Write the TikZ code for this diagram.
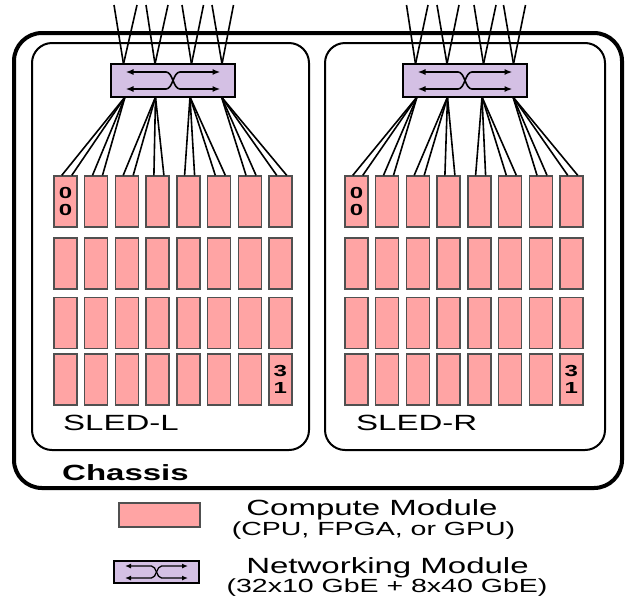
\documentclass[tikz,border=0pt]{standalone}
\usepackage{fontspec}
\setmainfont{Liberation Sans}
\usepackage{graphicx}
\usetikzlibrary{arrows.meta}
\definecolor{modfill}{RGB}{255,164,164}
\definecolor{moddraw}{RGB}{80,80,80}
\definecolor{netfill}{RGB}{212,192,228}
\newcommand{\hstr}[1]{\scalebox{1.5}[1]{#1}}
\newcommand{\crossarrows}[5]{%
  \draw[#5] ([shift={(-#2,-#3)}]#1.center) -- ([shift={(-#4,-#3)}]#1.center)
    .. controls ([shift={(0,-#3)}]#1.center) and ([shift={(0,#3)}]#1.center) ..
    ([shift={(#4,#3)}]#1.center) -- ([shift={(#2,#3)}]#1.center);
  \draw[#5] ([shift={(-#2,#3)}]#1.center) -- ([shift={(-#4,#3)}]#1.center)
    .. controls ([shift={(0,#3)}]#1.center) and ([shift={(0,-#3)}]#1.center) ..
    ([shift={(#4,-#3)}]#1.center) -- ([shift={(#2,-#3)}]#1.center);
}
\begin{document}
\begin{tikzpicture}[x=1pt,y=-1pt,
  chassisbox/.style={draw=black, line width=4pt, rounded corners=28pt, minimum width=608pt, minimum height=455pt, inner sep=0pt},
  sledbox/.style={draw=black, line width=2pt, rounded corners=20pt, minimum height=407pt, inner sep=0pt},
  netbox/.style={draw=black, fill=netfill, line width=1.4pt, inner sep=0pt},
  module/.style={draw=moddraw, fill=modfill, line width=1.4pt, minimum width=23pt, minimum height=51pt, inner sep=0pt},
  wire/.style={draw=black, line width=1.6pt},
  xarr/.style={line width=1.6pt, {Latex[length=8pt,width=6pt]}-{Latex[length=8pt,width=6pt]}},
  xarrsmall/.style={line width=1.3pt, {Latex[length=6pt,width=5pt]}-{Latex[length=6pt,width=5pt]}},
  digits/.style={font=\bfseries\fontsize{16}{17}\selectfont, align=center, inner sep=0pt},
  bigtext/.style={font=\fontsize{22}{26}\selectfont, inner sep=0pt},
  smalltext/.style={font=\fontsize{19}{22}\selectfont, inner sep=0pt}
]
\useasboundingbox (0,0) rectangle (636,603);

% chassis and sleds
\node[chassisbox] (chassis) at (318,260.5) {};
\node[sledbox, minimum width=277pt] (sledL) at (170.5,246.5) {};
\node[sledbox, minimum width=280pt] (sledR) at (465,246.5) {};

% networking modules
\node[netbox, minimum width=124pt, minimum height=33pt] (netL) at (173,80.5) {};
\node[netbox, minimum width=124pt, minimum height=33pt] (netR) at (465,80.5) {};

% compute modules
\foreach \r/\ty in {1/176,2/238,3/297.5,4/354} {
  \foreach \c in {1,...,8} {
    \node[module] (mL-\r-\c) at ({54+30.7*(\c-1)+11.5}, \ty+25.5) {};
    \node[module] (mR-\r-\c) at ({345+30.7*(\c-1)+11.5}, \ty+25.5) {};
  }
}

% fan points on networking modules
\foreach \k/\x in {1/125,2/155.5,3/190,4/221.5} \coordinate (fLb-\k) at (\x,97);
\foreach \k/\x in {1/417,2/447.5,3/482,4/513} \coordinate (fRb-\k) at (\x,97);
\foreach \k/\x in {1/123.5,2/155,3/191.5,4/222} \coordinate (fLt-\k) at (\x,64);
\foreach \k/\x in {1/415.5,2/447,3/483.5,4/513.5} \coordinate (fRt-\k) at (\x,64);
% free ends of uplinks
\foreach \k/\xa/\xb in {1/114/137,2/146/168,3/182/203.5,4/212/233.5} {
  \coordinate (uL-\k-a) at (\xa,5); \coordinate (uL-\k-b) at (\xb,5);
}
\foreach \k/\xa/\xb in {1/406.5/428,2/437/459,3/474/496,4/503.5/525.5} {
  \coordinate (uR-\k-a) at (\xa,5); \coordinate (uR-\k-b) at (\xb,5);
}

% uplinks
\foreach \k in {1,...,4} {
  \draw[wire] (fLt-\k) -- (uL-\k-a);
  \draw[wire] (fLt-\k) -- (uL-\k-b);
  \draw[wire] (fRt-\k) -- (uR-\k-a);
  \draw[wire] (fRt-\k) -- (uR-\k-b);
}
% downlinks to first-row modules
\foreach \c in {1,...,8} {
  \pgfmathtruncatemacro{\k}{int((\c+1)/2)}
  \draw[wire] (fLb-\k) -- ([xshift=8.5pt]mL-1-\c.north west);
  \draw[wire] (fLb-\k) -- ([xshift=18.5pt]mL-1-\c.north west);
  \draw[wire] (fRb-\k) -- ([xshift=8.5pt]mR-1-\c.north west);
  \draw[wire] (fRb-\k) -- ([xshift=18.5pt]mR-1-\c.north west);
}

% redraw boxes on top of wire ends
\node[netbox, minimum width=124pt, minimum height=33pt] at (netL) {};
\node[netbox, minimum width=124pt, minimum height=33pt] at (netR) {};
\crossarrows{netL}{47.5}{8.5}{7}{xarr}
\crossarrows{netR}{47.5}{8.5}{7}{xarr}

% module numbers
\node[digits] (nL00) at (mL-1-1) {\hstr{0}\\\hstr{0}};
\node[digits] (nR00) at (mR-1-1) {\hstr{0}\\\hstr{0}};
\node[digits] (nL31) at (mL-4-8) {\hstr{3}\\\hstr{1}};
\node[digits] (nR31) at (mR-4-8) {\hstr{3}\\\hstr{1}};

% labels
\node[bigtext, anchor=base west] (lblL) at (63,430) {\hstr{SLED-L}};
\node[bigtext, anchor=base west] (lblR) at (356,430) {\hstr{SLED-R}};
\node[bigtext, font=\bfseries\fontsize{22}{26}\selectfont, anchor=base west] (lblC) at (62,480) {\hstr{Chassis}};

% legend
\node[module, minimum width=81pt, minimum height=24pt] (legC) at (159.5,515) {};
\node[netbox, minimum width=85pt, minimum height=22pt] (legN) at (156.5,572) {};
\crossarrows{legN}{31.5}{6}{5}{xarrsmall}
\node[bigtext, anchor=base] (legC1) at (372,515) {\hstr{Compute Module}};
\node[smalltext, anchor=base] (legC2) at (373.5,535) {\hstr{(CPU, FPGA, or GPU)}};
\node[bigtext, anchor=base] (legN1) at (387.5,573) {\hstr{Networking Module}};
\node[smalltext, anchor=base] (legN2) at (387,592) {\hstr{(32x10 GbE + 8x40 GbE)}};
\end{tikzpicture}
\end{document}
